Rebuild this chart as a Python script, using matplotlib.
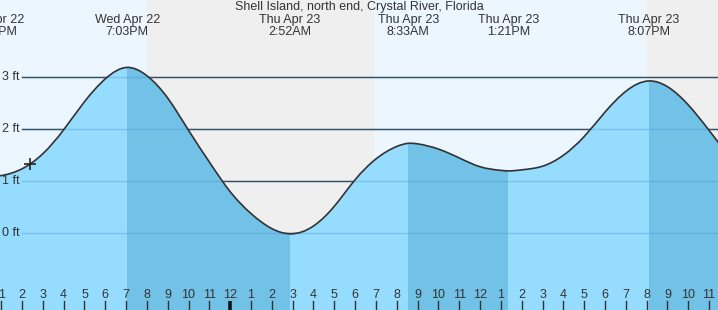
import numpy as np
import matplotlib.pyplot as plt
import matplotlib.transforms as mtransforms
from matplotlib.path import Path
from matplotlib.patches import PathPatch

plt.rcParams['font.family'] = ['Liberation Sans', 'DejaVu Sans']

title = "Shell Island, north end, Crystal River, Florida"

# hours from midnight Thu Apr 23, heights in ft
hours = [-11, -10, -9, -8, -7, -6, -5, -4, -3, -2, -1, 0, 1, 2, 3, 4, 5, 6,
         7, 8, 9, 10, 11, 12, 13, 14, 15, 16, 17, 18, 19, 20, 21, 22, 23, 23.5]
heights = [1.11, 1.24, 1.53, 1.99, 2.53, 2.97, 3.18, 3.03, 2.60, 1.98, 1.37,
           0.80, 0.38, 0.09, -0.01, 0.14, 0.52, 1.03, 1.43, 1.67, 1.72, 1.62,
           1.45, 1.28, 1.21, 1.22, 1.29, 1.50, 1.86, 2.33, 2.73, 2.93, 2.82,
           2.47, 1.98, 1.72]

# high / low tides
tide_times = [-11.45, -4.95, 2.867, 8.55, 13.35, 20.117]
tide_heights = [1.09, 3.19, -0.01, 1.73, 1.20, 2.93]
tide_kind = ['L', 'H', 'L', 'H', 'L', 'H']
tide_day = ['Wed Apr 22', 'Wed Apr 22', 'Thu Apr 23', 'Thu Apr 23',
            'Thu Apr 23', 'Thu Apr 23']
tide_clock = ['12:33PM', '7:03PM', '2:52AM', '8:33AM', '1:21PM', '8:07PM']

# night: sunset -> sunrise
night_start = [-4.0, 20.0]
night_end = [6.93, 30.0]

now_time = -9.6
now_height = 1.34

ft_levels = [0, 1, 2, 3]
tick_hours = list(range(-11, 24))

W, H = 718, 310
px_hr = 20.82
mid_px = 230.2
x_lo = -mid_px / px_hr
x_hi = (W - mid_px) / px_hr
zero_px = 233.3
px_ft = 52.0
y_lo = (zero_px - H) / px_ft
y_hi = zero_px / px_ft

day_bg = '#EBF6FF'
night_bg = '#EFEFEF'
water = '#96DCFE'
water_dark = '#72C1E6'
ink = '#333333'

fig = plt.figure(figsize=(W / 100, H / 100), dpi=100)
ax = fig.add_axes([0, 0, 1, 1])
ax.set_facecolor(day_bg)
ax.set_xlim(x_lo, x_hi)
ax.set_ylim(y_lo, y_hi)
ax.set_xticks([])
ax.set_yticks([])
for s in ax.spines.values():
    s.set_visible(False)

for a, b in zip(night_start, night_end):
    ax.axvspan(a, b, color=night_bg, lw=0, zorder=0)

# the extremes plus the hourly readings not sitting right on top of one
pts = list(zip(tide_times, tide_heights))
pts += [(t, v) for t, v in zip(hours, heights)
        if min(abs(t - e) for e in tide_times) > 0.25]
pts.sort()
xs = np.array([p[0] for p in pts])
ys = np.array([p[1] for p in pts])
n = len(xs)

# natural cubic spline, drawn as bezier segments
hs = np.diff(xs)
d = np.diff(ys) / hs
A = np.zeros((n, n))
r = np.zeros(n)
A[0, 0] = A[-1, -1] = 1
for i in range(1, n - 1):
    A[i, i - 1] = hs[i - 1]
    A[i, i] = 2 * (hs[i - 1] + hs[i])
    A[i, i + 1] = hs[i]
    r[i] = 6 * (d[i] - d[i - 1])
M = np.linalg.solve(A, r)
m = np.empty(n)
m[:-1] = d - hs * (2 * M[:-1] + M[1:]) / 6
m[-1] = d[-1] + hs[-1] * (M[-2] + 2 * M[-1]) / 6

verts = [(xs[0], ys[0])]
codes = [Path.MOVETO]
for i in range(n - 1):
    h = hs[i]
    verts += [(xs[i] + h / 3, ys[i] + m[i] * h / 3),
              (xs[i + 1] - h / 3, ys[i + 1] - m[i + 1] * h / 3),
              (xs[i + 1], ys[i + 1])]
    codes += [Path.CURVE4] * 3

fill_path = Path(verts + [(xs[-1], -5), (xs[0], -5), (xs[0], ys[0])],
                 codes + [Path.LINETO, Path.LINETO, Path.CLOSEPOLY])
fill = PathPatch(fill_path, facecolor=water, lw=0, zorder=2)
ax.add_patch(fill)

# falling tide is drawn darker
for i, k in enumerate(tide_kind):
    if k == 'H':
        end = tide_times[i + 1] if i + 1 < len(tide_times) else x_hi + 1
        span = ax.axvspan(tide_times[i], end, color=water_dark, lw=0, zorder=3)
        span.set_clip_path(fill)

ax.add_patch(PathPatch(Path(verts, codes), fill=False, edgecolor=ink,
                       lw=1.2, zorder=5))

# grid lines + labels
for lvl in ft_levels:
    ax.axhline(lvl, xmin=22 / W, color=ink, lw=1.0, zorder=1)
    ax.axhline(lvl, xmin=22 / W, color='#3C96D2', alpha=0.35, lw=1.0, zorder=4)
    ax.text(2.5 / W, lvl, f"{lvl} ft", transform=ax.get_yaxis_transform(),
            ha='left', va='center', fontsize=9, color=ink, zorder=6)

# hour ticks along the bottom
btrans = mtransforms.blended_transform_factory(ax.transData, ax.transAxes)
for hr in tick_hours:
    lab = (hr % 12) or 12
    if hr % 24 == 0:
        ax.plot([hr, hr], [0, 9 / H], transform=btrans, color='#111111',
                lw=2.6, solid_capstyle='butt', zorder=6)
    else:
        ax.plot([hr, hr], [0, 9 / H], transform=btrans, color=ink,
                lw=1.0, zorder=6)
    ax.text(hr, (H - 295.5) / H, str(lab), transform=btrans, ha='center',
            va='center', fontsize=9, color=ink, zorder=6)

# tide labels on top
for t, day, clk in zip(tide_times, tide_day, tide_clock):
    ax.text(t, 1 - 20 / H, day, transform=btrans, ha='center', va='center',
            fontsize=9, color=ink, zorder=6)
    ax.text(t, 1 - 32 / H, clk, transform=btrans, ha='center', va='center',
            fontsize=9, color=ink, zorder=6)

ax.text(0.5, 1 - 7 / H, title, transform=ax.transAxes, ha='center',
        va='center', fontsize=9, color=ink, zorder=6)

ax.plot(now_time, now_height, marker='+', ms=8, mew=1.2, color='#222222',
        zorder=7)

fig.savefig('out.png', dpi=100)
